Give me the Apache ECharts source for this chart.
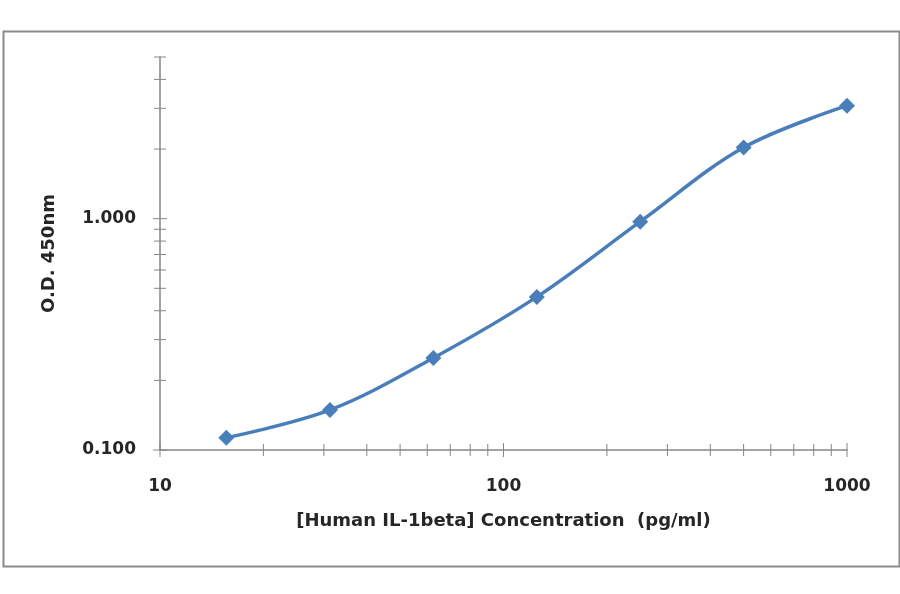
<!DOCTYPE html>
<html>
<head>
<meta charset="utf-8">
<script src="https://cdn.jsdelivr.net/npm/echarts@6/dist/echarts.min.js"></script>
<style>html,body{margin:0;padding:0;background:#fff}#c{width:900px;height:594px}</style>
</head>
<body>
<div id="c"></div>
<script>
const concentrations = [15.6, 31.25, 62.5, 125, 250, 500, 1000];
const odValues = [0.113, 0.149, 0.250, 0.459, 0.971, 2.03, 3.08];
const xMajorTicks = [10, 100, 1000];
const xMinorTicks = [20, 30, 40, 50, 60, 70, 80, 90, 200, 300, 400, 500, 600, 700, 800, 900];
const yMajorTicks = [0.1, 1];
const yMinorTicks = [0.2, 0.3, 0.4, 0.5, 0.6, 0.7, 0.8, 0.9, 2, 3, 4, 5];
const xTitle = '[Human IL-1beta] Concentration  (pg/ml)';
const yTitle = 'O.D. 450nm';

const xMin = 10, xMax = 1000, yMin = 0.1, yMax = 5;
const axisGray = '#868686';
const FONT = 'DejaVu Sans';

function tickSeries(values, isX, half) {
  return {
    type: 'custom',
    silent: true,
    clip: false,
    z: 1,
    data: values.map(v => isX ? [v, yMin] : [xMin, v]),
    renderItem: function (params, api) {
      const p = api.coord([api.value(0), api.value(1)]);
      const shape = isX
        ? { x1: p[0], y1: p[1] - half, x2: p[0], y2: p[1] + half }
        : { x1: p[0] - half, y1: p[1], x2: p[0] + half, y2: p[1] };
      return { type: 'line', shape: shape, style: { stroke: axisGray, lineWidth: 1 } };
    }
  };
}

const chart = echarts.init(document.getElementById('c'));
chart.setOption({
  animation: false,
  backgroundColor: '#fff',
  graphic: [{
    type: 'rect', left: 1, top: 29, z: -10,
    shape: { width: 896, height: 535 },
    style: { fill: 'none', stroke: '#8a8a8a', lineWidth: 2 }
  }],
  grid: { left: 160, right: 53, top: 57, bottom: 144 },
  xAxis: {
    type: 'log', logBase: 10, min: xMin, max: xMax,
    name: xTitle, nameLocation: 'middle', nameGap: 62,
    nameTextStyle: { fontFamily: FONT, fontWeight: 'bold', fontSize: 18, color: '#262626' },
    axisLine: { show: true, lineStyle: { color: axisGray, width: 1.5 } },
    axisTick: { show: false },
    splitLine: { show: false },
    axisLabel: {
      margin: 28, fontFamily: FONT, fontWeight: 'bold', fontSize: 17, color: '#262626',
      formatter: v => xMajorTicks.some(t => Math.abs(t - v) / t < 1e-6) ? String(Math.round(v)) : ''
    }
  },
  yAxis: {
    type: 'log', logBase: 10, min: yMin, max: yMax,
    name: yTitle, nameLocation: 'middle', nameGap: 102, nameRotate: 90,
    nameTextStyle: { fontFamily: FONT, fontWeight: 'bold', fontSize: 18, color: '#262626' },
    axisLine: { show: true, lineStyle: { color: axisGray, width: 1.5 } },
    axisTick: { show: false },
    splitLine: { show: false },
    axisLabel: {
      margin: 24, fontFamily: FONT, fontWeight: 'bold', fontSize: 17, color: '#262626',
      showMaxLabel: false,
      formatter: v => yMajorTicks.some(t => Math.abs(t - v) / t < 1e-6) ? v.toFixed(3) : ''
    }
  },
  series: [
    tickSeries(xMajorTicks, true, 7),
    tickSeries(xMinorTicks, true, 6),
    tickSeries(yMajorTicks, false, 7),
    tickSeries(yMinorTicks, false, 6),
    {
      type: 'line',
      data: concentrations.map((c, i) => [c, odValues[i]]),
      smooth: 0.35,
      symbol: 'diamond',
      symbolSize: 16,
      z: 5,
      lineStyle: { color: '#4a7ebb', width: 3.5 },
      itemStyle: { color: '#4a7ebb' }
    }
  ]
});
</script>
</body>
</html>
